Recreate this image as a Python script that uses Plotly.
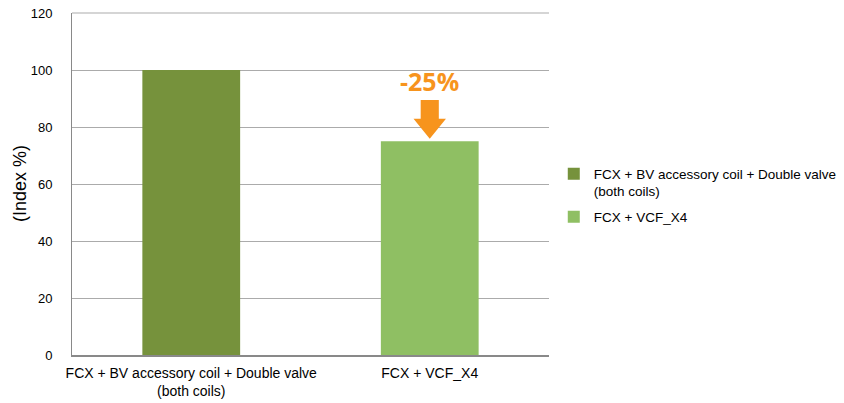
import plotly.graph_objects as go

categories = ["FCX + BV accessory coil + Double valve<br>(both coils)", "FCX + VCF_X4"]
legend_names = ["FCX + BV accessory coil + Double valve<br>(both coils)", "FCX + VCF_X4"]
values = [100, 75]
colors = ["#76923C", "#8FBF63"]
y_ticks = [0, 20, 40, 60, 80, 100, 120]
y_title = "(Index %)"

FONT = "Liberation Sans"
GRID = "#ABABAB"

fig = go.Figure()
for i, (cat, name, v, c) in enumerate(zip(categories, legend_names, values, colors)):
    fig.add_trace(go.Bar(x=[i], y=[v], name=name, legendgroup=f"g{i}",
                         marker=dict(color=c, line=dict(width=0)),
                         width=0.41, hoverinfo="skip"))

# change annotation
change = (values[1] - values[0]) / values[0] * 100
tip = values[1] + 0.9
neck = values[1] + 7.9
top = values[1] + 14.5
hs, hh = 0.038, 0.068
xi = 1
path = (f"M {xi-hs} {top} L {xi+hs} {top} L {xi+hs} {neck} L {xi+hh} {neck} "
        f"L {xi} {tip} L {xi-hh} {neck} L {xi-hs} {neck} Z")
fig.add_shape(type="path", path=path, xref="x", yref="y", fillcolor="#F7941D", line=dict(width=0))
fig.add_annotation(x=xi, y=top + 6.5, xref="x", yref="y", text=f"<b>{change:.0f}%</b>", showarrow=False,
                   font=dict(family="Open Sans", size=25, color="#F7941D"))

# top gridline (at the range edge; paper-referenced so it is not clipped)
fig.add_shape(type="line", xref="paper", yref="paper", x0=0, x1=1, y0=1, y1=1,
              line=dict(color=GRID, width=1), layer="below")

# y axis title
fig.add_annotation(x=-0.109, y=0.5, xref="paper", yref="paper", text=y_title, textangle=-90,
                   showarrow=False, xanchor="center", yanchor="middle",
                   font=dict(family=FONT, size=18, color="#000000"))

fig.update_layout(
    width=844, height=403,
    margin=dict(l=72, r=295, t=13, b=48, autoexpand=False),
    paper_bgcolor="white", plot_bgcolor="white",
    barmode="overlay",
    font=dict(family=FONT, size=13, color="#000000"),
    showlegend=True,
    legend=dict(x=1.01, y=0.575, xanchor="left", yanchor="top", font=dict(size=13.5),
                bgcolor="rgba(0,0,0,0)", tracegroupgap=5, itemwidth=30, valign="top"),
    xaxis=dict(tickmode="array", tickvals=[0, 1], ticktext=categories, range=[-0.5, 1.5],
               showline=True, linecolor="#898989", linewidth=2, ticks="", showgrid=False,
               tickfont=dict(size=14), automargin=False, ticklabelstandoff=4),
    yaxis=dict(range=[0, 120], tickvals=y_ticks, showgrid=True, gridcolor=GRID, gridwidth=1,
               showline=True, linecolor="#898989", linewidth=1, ticks="", zeroline=False,
               tickfont=dict(size=13), ticklabelstandoff=16, automargin=False,
               ticklabeloverflow="allow"),
)

fig.write_html("out.html", config={"displayModeBar": False},
               post_script="document.body.style.margin='0';document.body.style.overflow='hidden';")
